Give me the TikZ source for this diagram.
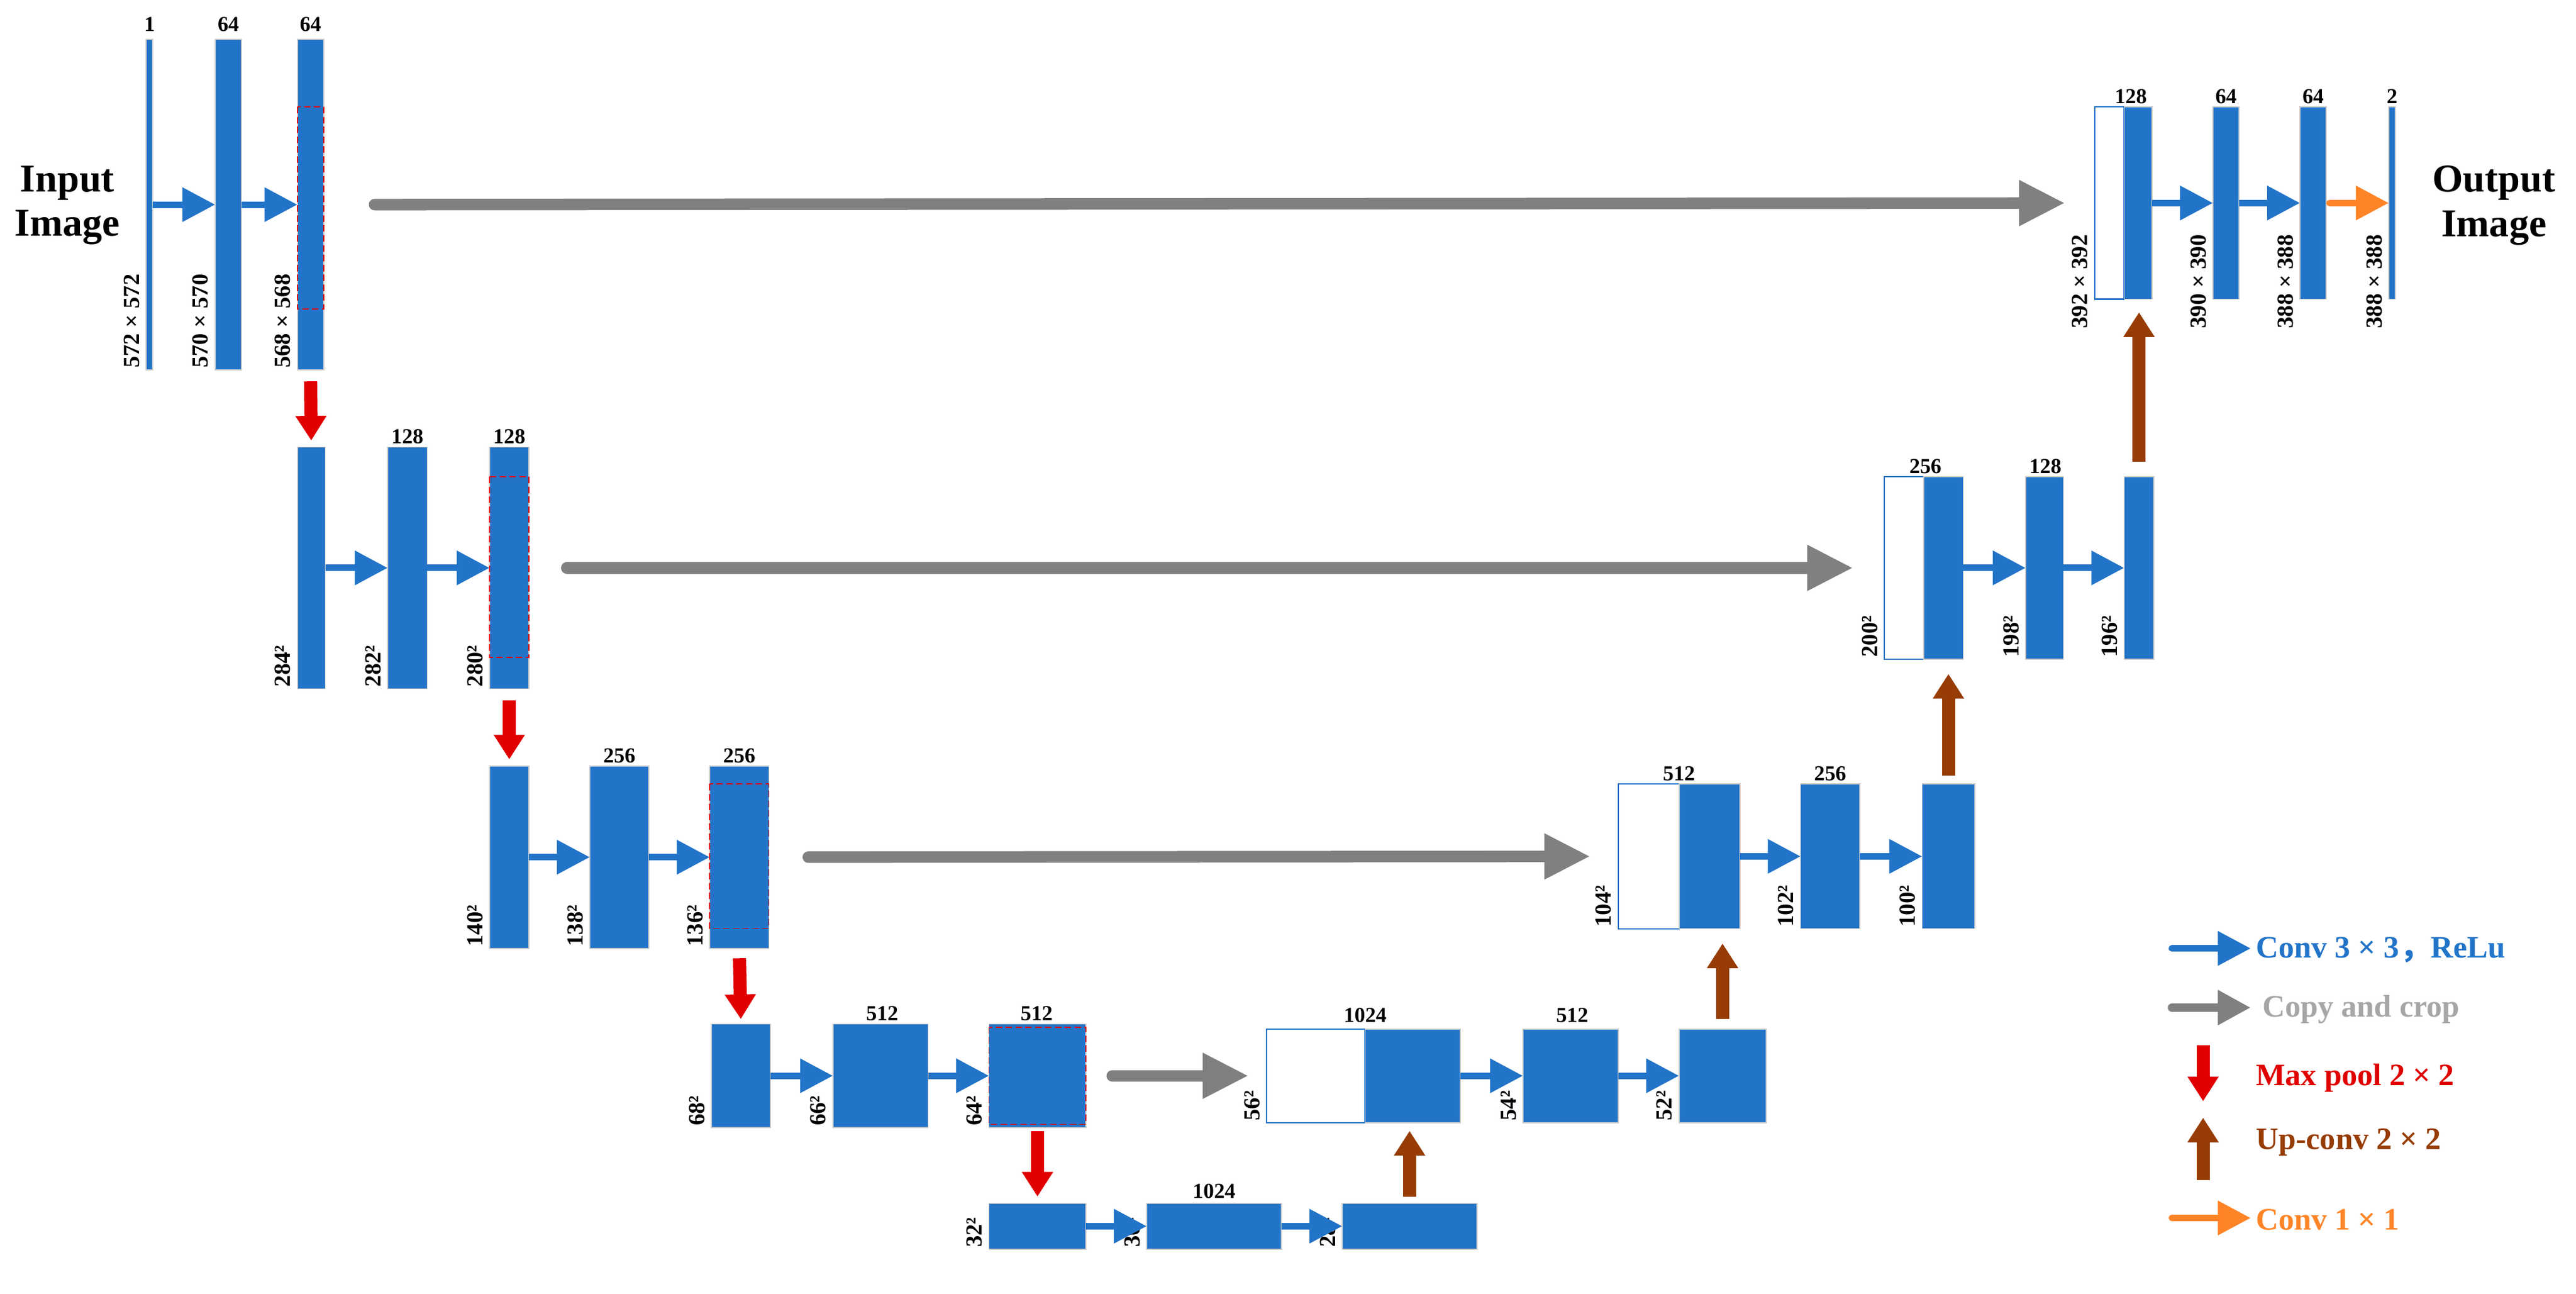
\documentclass[tikz,border=0pt]{standalone}
\usepackage{fontspec}
\setmainfont{Liberation Serif}
\newfontfamily\cjk{Noto Sans CJK SC}
\usetikzlibrary{arrows.meta}
\definecolor{cblue}{HTML}{2274C8}
\definecolor{cgray}{HTML}{808080}
\definecolor{cred}{HTML}{E00000}
\definecolor{cbrown}{HTML}{963C04}
\definecolor{corange}{HTML}{FF8427}
\definecolor{ltext}{HTML}{A6A6A6}
\newcommand\bx[6][blk]{\node[#1,minimum width={(#4-#2)*1pt},minimum height={(#5-#3)*1pt}] (#6) at ({(#2+#4)/2},{(#3+#5)/2}) {};}
\begin{document}
\begin{tikzpicture}[x=1pt,y=-1pt,font=\bfseries,
 blk/.style={fill=cblue,draw=black!20,line width=0.6pt,inner sep=0,outer sep=0},
 wht/.style={fill=white,draw=cblue,line width=0.8pt,inner sep=0,outer sep=0},
 crop/.style={draw=cred,dashed,line width=0.6pt,dash pattern=on 4pt off 2pt},
 conv/.style={draw=cblue,line width=4pt,-{Triangle[length=20pt,width=20pt]}},
 copy/.style={draw=cgray,line width=7pt,line cap=round,-{Triangle[length=28pt,width=26pt]}},
 pool/.style={draw=cred,line width=8pt,-{Triangle[length=15pt,width=18pt]}},
 up/.style={draw=cbrown,line width=8pt,-{Triangle[length=15pt,width=18pt]}},
 one/.style={draw=corange,line width=4pt,line cap=round,-{Triangle[length=20pt,width=20pt]}},
 num/.style={font=\bfseries\fontsize{13}{13}\selectfont,inner sep=1pt,anchor=base},
 dim/.style={font=\bfseries\fontsize{14}{14}\selectfont,rotate=90,anchor=south west,inner sep=1pt},
 big/.style={font=\bfseries\fontsize{24}{27}\selectfont,align=center,inner sep=0},
 leg/.style={font=\bfseries\fontsize{19}{19}\selectfont,anchor=west,inner sep=0}]
\useasboundingbox (0,0) rectangle (1568,787);
% level 1
\bx{89}{24}{93}{225}{a1}\bx{131}{24}{147}{225}{a2}\bx{181}{24}{197}{225}{a3}
\draw[crop] (181,65) rectangle (197,188);
\node[num] (n1) at (91,19) {1};\node[num] (n2) at (139,19) {64};\node[num] (n3) at (189,19) {64};
\node[dim] (d1) at (86,225) {572 × 572};\node[dim] (d2) at (128,225) {570 × 570};\node[dim] (d3) at (178,225) {568 × 568};
\draw[conv] (a1.east) -- (a2.west);\draw[conv] (a2.east) -- (a3.west);
\node[big] (in) at (41,125) {Input\\Image};
% level 2
\bx{181}{272}{198}{419}{b1}\bx{236}{272}{260}{419}{b2}\bx{298}{272}{322}{419}{b3}
\draw[crop] (298,290) rectangle (322,400);
\node[num] (m2) at (248,270) {128};\node[num] (m3) at (310,270) {128};
\node[dim] (e1) at (178,419) {284²};\node[dim] (e2) at (233,419) {282²};\node[dim] (e3) at (295,419) {280²};
\draw[conv] (b1.east) -- (b2.west);\draw[conv] (b2.east) -- (b3.west);
% level 3
\bx{298}{466}{322}{577}{c1}\bx{359}{466}{395}{577}{c2}\bx{432}{466}{468}{577}{c3}
\draw[crop] (432,477) rectangle (468,565);
\node[num] (k2) at (377,464) {256};\node[num] (k3) at (450,464) {256};
\node[dim] (f1) at (295,577) {140²};\node[dim] (f2) at (356,577) {138²};\node[dim] (f3) at (429,577) {136²};
\draw[conv] (c1.east) -- (c2.west);\draw[conv] (c2.east) -- (c3.west);
% level 4
\bx{433}{623}{469}{686}{g1}\bx{507}{623}{565}{686}{g2}\bx{602}{623}{661}{686}{g3}
\draw[crop] (602,625) rectangle (661,684);
\node[num] (j2) at (537,621) {512};\node[num] (j3) at (631,621) {512};
\node[dim] (h1) at (430,686) {68²};\node[dim] (h2) at (504,686) {66²};\node[dim] (h3) at (599,686) {64²};
\draw[conv] (g1.east) -- (g2.west);\draw[conv] (g2.east) -- (g3.west);
% level 5
\bx{602}{732}{661}{760}{p1}\bx{698}{732}{780}{760}{p2}\bx{817}{732}{899}{760}{p3}
\node[num] (q2) at (739,729) {1024};
\node[dim] (r1) at (599,760) {32²};\node[dim] (r2) at (695,760) {30²};\node[dim] (r3) at (814,760) {28²};
\draw[conv] (p1.east) -- (p2.west);\draw[conv] (p2.east) -- (p3.west);
% level 4 right
\bx[wht]{771}{626}{831}{683}{u0}\bx{831}{626}{889}{683}{u1}\bx{927}{626}{985}{683}{u2}\bx{1022}{626}{1075}{683}{u3}
\node[num] (v1) at (831,622) {1024};\node[num] (v2) at (957,622) {512};
\node[dim] (w1) at (768,683) {56²};\node[dim] (w2) at (924,683) {54²};\node[dim] (w3) at (1019,683) {52²};
\draw[conv] (u1.east) -- (u2.west);\draw[conv] (u2.east) -- (u3.west);
% level 3 right
\bx[wht]{985}{477}{1022}{565}{s0}\bx{1022}{477}{1059}{565}{s1}\bx{1096}{477}{1132}{565}{s2}\bx{1170}{477}{1202}{565}{s3}
\node[num] (t1) at (1022,475) {512};\node[num] (t2) at (1114,475) {256};
\node[dim] (x1) at (982,565) {104²};\node[dim] (x2) at (1093,565) {102²};\node[dim] (x3) at (1167,565) {100²};
\draw[conv] (s1.east) -- (s2.west);\draw[conv] (s2.east) -- (s3.west);
% level 2 right
\bx[wht]{1147}{290}{1171}{401}{o0}\bx{1171}{290}{1195}{401}{o1}\bx{1233}{290}{1256}{401}{o2}\bx{1293}{290}{1311}{401}{o3}
\node[num] (y1) at (1172,288) {256};\node[num] (y2) at (1245,288) {128};
\node[dim] (z1) at (1144,401) {200²};\node[dim] (z2) at (1230,401) {198²};\node[dim] (z3) at (1290,401) {196²};
\draw[conv] (o1.east) -- (o2.west);\draw[conv] (o2.east) -- (o3.west);
% level 1 right
\bx[wht]{1275}{65}{1293}{182}{l0}\bx{1293}{65}{1310}{182}{l1}\bx{1347}{65}{1363}{182}{l2}\bx{1400}{65}{1416}{182}{l3}\bx{1454}{65}{1458}{182}{l4}
\node[num] (i1) at (1297,63) {128};\node[num] (i2) at (1355,63) {64};\node[num] (i3) at (1408,63) {64};\node[num] (i4) at (1456,63) {2};
\node[dim] (k1) at (1272,201) {392 × 392};\node[dim] (kk2) at (1344,201) {390 × 390};\node[dim] (kk3) at (1397,201) {388 × 388};\node[dim] (kk4) at (1451,201) {388 × 388};
\draw[conv] (l1.east) -- (l2.west);\draw[conv] (l2.east) -- (l3.west);
\draw[one,shorten <=2pt] (l3.east) -- (l4.west);
\node[big] (out) at (1518,125) {Output\\Image};
% copy and crop
\draw[copy,shorten <=31pt,shorten >=18pt] (a3.east) -- (l0.west);
\draw[copy,shorten <=23pt,shorten >=19pt] (b3.east) -- (o0.west);
\draw[copy,shorten <=24pt,shorten >=17pt] (c3.east) -- (s0.west);
\draw[copy,shorten <=16pt,shorten >=11pt] (g3.east) -- (u0.west);
% max pool
\draw[pool,shorten <=7pt,shorten >=4pt] (a3.south) -- (b1.north);
\draw[pool,shorten <=7pt,shorten >=4pt] (b3.south) -- (c1.north);
\draw[pool,shorten <=6pt,shorten >=3pt] (c3.south) -- (g1.north);
\draw[pool,shorten <=2pt,shorten >=4pt] (g3.south) -- (p1.north);
% up conv
\draw[up,shorten <=4pt,shorten >=5pt] (p3.north) -- (p3.north|-u1.south);
\draw[up,shorten <=6pt,shorten >=9pt] (u3.north) -- (u3.north|-s1.south);
\draw[up,shorten <=5pt,shorten >=9pt] (s3.north) -- (s3.north|-o1.south);
\draw[up,shorten <=9pt,shorten >=8pt] (o3.north) -- (o3.north|-l1.south);
% legend
\coordinate (la1) at (1322,577);\coordinate (la2) at (1370,577);
\draw[conv,line cap=round] (la1) -- (la2);
\node[leg,text=cblue] (lt1) at (1373,578) {Conv 3 × 3{\cjk ，}ReLu};
\coordinate (lb1) at (1322,613);\coordinate (lb2) at (1370,613);
\draw[copy,line width=5pt,-{Triangle[length=20pt,width=20pt]}] (lb1) -- (lb2);
\node[leg,text=ltext] (lt2) at (1377,614) {Copy and crop};
\coordinate (lc1) at (1341,636);\coordinate (lc2) at (1341,670);
\draw[pool] (lc1) -- (lc2);
\node[leg,text=cred] (lt3) at (1373,656) {Max pool 2 × 2};
\coordinate (ld1) at (1341,718);\coordinate (ld2) at (1341,680);
\draw[up] (ld1) -- (ld2);
\node[leg,text=cbrown] (lt4) at (1373,695) {Up-conv 2 × 2};
\coordinate (le1) at (1322,741);\coordinate (le2) at (1370,741);
\draw[one] (le1) -- (le2);
\node[leg,text=corange] (lt5) at (1373,742) {Conv 1 × 1};
\end{tikzpicture}
\end{document}
